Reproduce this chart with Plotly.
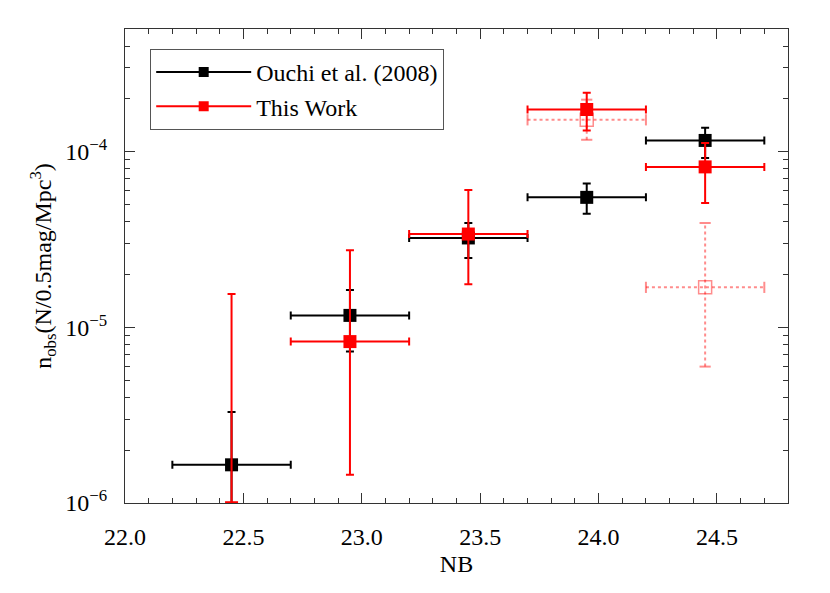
import plotly.graph_objs as go

# magnitude bins (NB) and half bin width
nb = [22.45, 22.95, 23.45, 23.95, 24.45]
half_bin = [0.25, 0.25, 0.25, 0.25, 0.25]

# Ouchi et al. (2008)
ouchi_n = [1.65e-6, 1.17e-5, 3.23e-5, 5.5e-5, 1.16e-4]
ouchi_hi = [3.3e-6, 1.63e-5, 3.93e-5, 6.6e-5, 1.37e-4]
ouchi_lo = [5e-7, 7.3e-6, 2.48e-5, 4.43e-5, 9.2e-5]

# this work
work_n = [9.4e-7, 8.3e-6, 3.4e-5, 1.74e-4, 8.2e-5]
work_hi = [1.55e-5, 2.75e-5, 6.05e-5, 2.17e-4, 1.12e-4]
work_lo = [1e-7, 1.45e-6, 1.76e-5, 1.32e-4, 5.1e-5]

# alternative (dotted, faded) values for the two faintest bins
alt_nb = [23.95, 24.45]
alt_half = [0.25, 0.25]
alt_n = [1.52e-4, 1.69e-5]
alt_hi = [1.98e-4, 3.93e-5]
alt_lo = [1.17e-4, 5.98e-6]

xticks = [22.0, 22.5, 23.0, 23.5, 24.0, 24.5]
yticks = [1e-6, 1e-5, 1e-4]
ylabels = ['10<sup>\u22126</sup>', '10<sup>\u22125</sup>', '10<sup>\u22124</sup>']
yminor = [k * 10.0 ** e for e in (-6, -5, -4) for k in range(2, 10) if k * 10.0 ** e <= 5e-4]

FONT = "Times New Roman, Liberation Serif, DejaVu Serif, serif"
FADED = "rgba(255,0,0,0.45)"

data = []

# dotted error crosses for the alternative values
hx, hy, vx, vy = [], [], [], []
capx_h, capy_h, capx_v, capy_v = [], [], [], []
for x, h, n, hi, lo in zip(alt_nb, alt_half, alt_n, alt_hi, alt_lo):
    hx += [x - h, x + h, None]
    hy += [n, n, None]
    vx += [x, x, None]
    vy += [lo, hi, None]
    capx_h += [x - h, x + h]
    capy_h += [n, n]
    capx_v += [x, x]
    capy_v += [lo, hi]

data.append(go.Scatter(x=hx + vx, y=hy + vy, mode='lines', showlegend=False,
                       line=dict(color=FADED, width=2, dash='dot'), hoverinfo='skip'))
data.append(go.Scatter(x=capx_h, y=capy_h, mode='markers', showlegend=False,
                       marker=dict(symbol='line-ns', size=8, line=dict(color=FADED, width=2))))
data.append(go.Scatter(x=capx_v, y=capy_v, mode='markers', showlegend=False,
                       marker=dict(symbol='line-ew', size=8, line=dict(color=FADED, width=2))))
data.append(go.Scatter(x=alt_nb, y=alt_n, mode='markers', showlegend=False,
                       marker=dict(symbol='square-open', size=13, color=FADED, line=dict(width=1.5))))


def errs(vals, hi, lo):
    return ([h - v for v, h in zip(vals, hi)], [v - l for v, l in zip(vals, lo)])


wp, wm = errs(work_n, work_hi, work_lo)
op, om = errs(ouchi_n, ouchi_hi, ouchi_lo)

data.append(go.Scatter(
    x=nb, y=ouchi_n, mode='markers', showlegend=False,
    marker=dict(symbol='square', size=13, color='black'),
    error_x=dict(type='data', array=half_bin, color='black', thickness=2, width=4),
    error_y=dict(type='data', symmetric=False, array=op, arrayminus=om,
                 color='black', thickness=2, width=4)))
data.append(go.Scatter(
    x=nb, y=work_n, mode='markers', showlegend=False,
    marker=dict(symbol='square', size=13, color='red'),
    error_x=dict(type='data', array=half_bin, color='red', thickness=2, width=4),
    error_y=dict(type='data', symmetric=False, array=wp, arrayminus=wm,
                 color='red', thickness=2, width=4)))

# legend entries
data.append(go.Scatter(x=[None], y=[None], mode='lines+markers', name='Ouchi et al. (2008)',
                       line=dict(color='black', width=2), marker=dict(symbol='square', size=10)))
data.append(go.Scatter(x=[None], y=[None], mode='lines+markers', name='This Work',
                       line=dict(color='red', width=2), marker=dict(symbol='square', size=10)))

axis_common = dict(showline=True, linecolor='#333333', linewidth=1, mirror='ticks',
                   ticks='inside', ticklen=10, tickcolor='#333333', showgrid=False,
                   zeroline=False, tickfont=dict(family=FONT, size=24, color='black'))

# the page body has an 8px margin, so the figure is sized to fill the rest
layout = go.Layout(
    width=822, height=585,
    plot_bgcolor='#FFFFFF', paper_bgcolor='#FFFFFF',
    margin=dict(l=117, r=42, t=21, b=90),
    font=dict(family=FONT, size=24, color='black'),
    xaxis=dict(axis_common, range=[22.0, 24.8], tickvals=xticks, tickformat='.1f',
               ticklabelstandoff=12,
               minor=dict(dtick=0.1, ticks='inside', ticklen=5, tickcolor='#333333'),
               title=dict(text='NB', font=dict(family=FONT, size=24), standoff=6)),
    yaxis=dict(axis_common, type='log', range=[-6.0, -3.301], tickvals=yticks,
               ticktext=ylabels, ticklabelstandoff=12,
               minor=dict(tickvals=yminor, ticks='inside', ticklen=5, tickcolor='#333333'),
               title=dict(text='n<sub>obs</sub>(N/0.5mag/Mpc<sup>3</sup>)',
                          font=dict(family=FONT, size=24), standoff=6)),
    legend=dict(x=0.038, y=0.958, xanchor='left', yanchor='top',
                bgcolor='white', bordercolor='#555555', borderwidth=1,
                font=dict(family=FONT, size=24), itemwidth=95, tracegroupgap=0),
)

fig = go.Figure(data=data, layout=layout)
fig.write_html("out.html")
